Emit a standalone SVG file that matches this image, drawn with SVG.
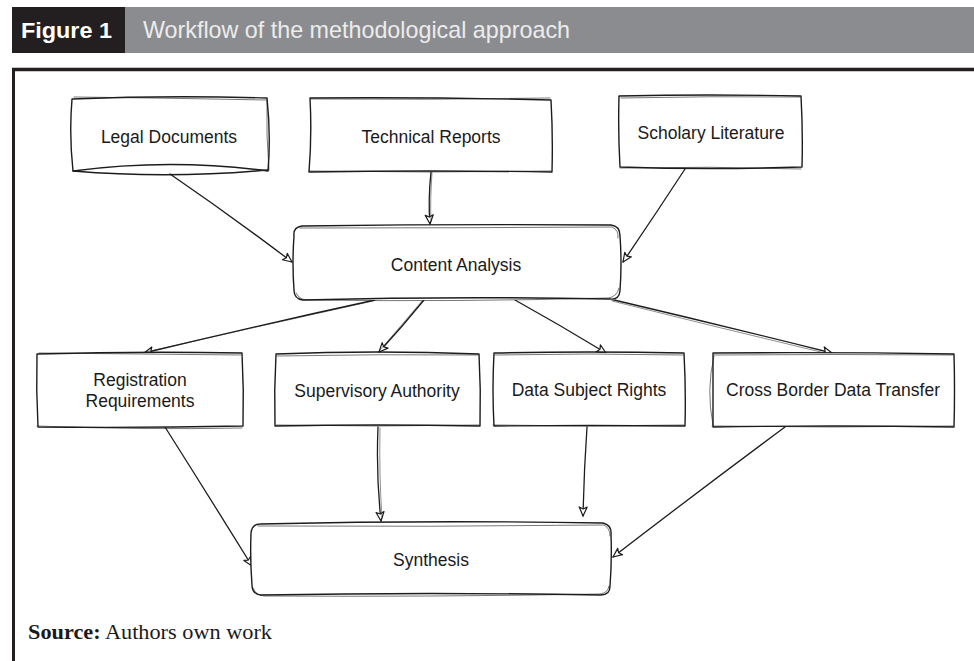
<svg xmlns="http://www.w3.org/2000/svg" width="974" height="661" viewBox="0 0 974 661">
<style>
.sk{fill:none;stroke:#1c1c1c;stroke-width:1.4;stroke-linejoin:round;stroke-linecap:round}
.sk2{fill:none;stroke:#1c1c1c;stroke-width:0.8;opacity:0.75;stroke-linecap:round}
.bg{fill:#ffffff;stroke:none}
.lbl{font-family:"Liberation Sans",Arial,Helvetica,sans-serif;font-size:17.5px;fill:#1a1a1a;text-anchor:middle}
.con{fill:none;stroke:#1c1c1c;stroke-width:1.3;stroke-linecap:round}
.con2{fill:none;stroke:#1c1c1c;stroke-width:0.7;opacity:0.7;stroke-linecap:round}
</style>
<defs>
<marker id="ah" markerUnits="userSpaceOnUse" markerWidth="12" markerHeight="12" viewBox="0 0 12 12" refX="10" refY="5" orient="auto">
<path d="M1,1 L10,5 L1,9 L3,5 Z" fill="#ffffff" stroke="#1c1c1c" stroke-width="1.2" stroke-linejoin="round"/>
</marker>
</defs>
<rect width="974" height="661" fill="#ffffff"/>
<g id="header">
<rect x="12" y="7" width="113" height="46" fill="#231f20"/>
<rect x="125" y="7" width="849" height="46" fill="#8b8c8f"/>
<text x="21" y="38" font-family="'Liberation Sans',Arial,sans-serif" font-weight="bold" font-size="22" fill="#ffffff" textLength="91" lengthAdjust="spacingAndGlyphs">Figure 1</text>
<text x="143" y="38" font-family="'Liberation Sans',Arial,sans-serif" font-size="24" fill="#ececec" textLength="427" lengthAdjust="spacingAndGlyphs">Workflow of the methodological approach</text>
</g>
<g id="frame">
<line x1="12" y1="69.5" x2="974" y2="69.5" stroke="#231f20" stroke-width="3.5"/>
<line x1="13.5" y1="68" x2="13.5" y2="661" stroke="#231f20" stroke-width="3"/>
</g>
<g id="connectors">
<path class="con" d="M170,174 Q230,215 292,262" marker-end="url(#ah)"/>
<path class="con" d="M431,172 Q428,200 430,224" marker-end="url(#ah)"/>
<path class="con2" d="M432,173 Q430,200 431,222"/>
<path class="con" d="M685,169 Q655,215 623,262" marker-end="url(#ah)"/>
<path class="con" d="M375,300 Q260,325 144,353" marker-end="url(#ah)"/>
<path class="con2" d="M373,301 Q260,326 146,352"/>
<path class="con" d="M424,300 Q402,327 379,352" marker-end="url(#ah)"/>
<path class="con2" d="M422,301 Q400,327 380,350"/>
<path class="con" d="M515,300 Q560,325 606,353" marker-end="url(#ah)"/>
<path class="con" d="M610,299 Q720,325 832,353" marker-end="url(#ah)"/>
<path class="con2" d="M612,301 Q720,328 829,354"/>
<path class="con" d="M165,427 Q208,495 252,566" marker-end="url(#ah)"/>
<path class="con" d="M378,427 Q376,475 381,521" marker-end="url(#ah)"/>
<path class="con2" d="M380,428 Q379,475 382,518"/>
<path class="con" d="M587,427 Q584,470 583,516" marker-end="url(#ah)"/>
<path class="con" d="M785,427 Q700,490 613,557" marker-end="url(#ah)"/>
</g>
<g id="legal-documents">
<path class="bg" d="M72,99 L267,98 L268,171 L73,171 Z"/>
<path class="sk" d="M72,99 Q170,95 267,98 Q271,135 268,171 Q170,158 73,171 Q69,135 72,99 Z"/>
<path class="sk" d="M73,171 Q170,179 268,170"/>
<path class="sk2" d="M74,97 Q170,98 266,100 M267,100 Q266,135 269,170"/>
<text class="lbl" x="169" y="143">Legal Documents</text>
</g>
<g id="technical-reports">
<path class="bg" d="M309,98 L552,99 L551,172 L310,171 Z"/>
<path class="sk" d="M310,98 Q430,97 551,100 Q553,135 552,172 Q430,170 309,172 Q312,135 310,98 Z"/>
<path class="sk2" d="M311,99 Q430,100 550,98 M309,171 Q430,173 551,171"/>
<text class="lbl" x="431" y="143">Technical Reports</text>
</g>
<g id="scholary-literature">
<path class="bg" d="M619,96 L802,96 L802,168 L620,168 Z"/>
<path class="sk" d="M619,96 Q710,94 801,96 Q803,132 802,167 Q710,170 620,167 Q618,132 619,96 Z"/>
<path class="sk2" d="M621,98 Q710,96 800,97 M620,168 Q710,166 801,169"/>
<text class="lbl" x="711" y="139">Scholary Literature</text>
</g>
<g id="content-analysis">
<path class="bg" d="M303,226 L610,226 Q620,226 620,236 L620,290 Q620,300 610,300 L303,300 Q293,300 293,290 L293,236 Q293,226 303,226 Z"/>
<path class="sk" d="M302,226 Q456,224 611,225 Q620,226 620,236 Q622,263 620,291 Q619,300 610,299 Q456,296 303,300 Q294,299 294,290 Q292,263 294,236 Q293,227 302,226 Z"/>
<path class="sk2" d="M300,228 Q456,228 612,227 Q619,230 618,238 M296,293 Q300,301 310,300 Q456,302 608,298 Q617,297 619,288"/>
<text class="lbl" x="456" y="271">Content Analysis</text>
</g>
<g id="registration-requirements">
<path class="bg" d="M37,353 L243,353 L243,427 L37,427 Z"/>
<path class="sk" d="M37,354 Q140,351 242,353 Q244,390 243,426 Q140,428 38,427 Q36,390 37,354 Z"/>
<path class="sk2" d="M39,353 Q140,354 241,355 M37,426 Q140,430 242,428"/>
<text class="lbl" x="140" y="386">Registration</text>
<text class="lbl" x="140" y="407">Requirements</text>
</g>
<g id="supervisory-authority">
<path class="bg" d="M275,353 L480,353 L480,426 L275,426 Z"/>
<path class="sk" d="M276,354 Q377,350 479,354 Q481,390 480,426 Q377,424 275,426 Q274,390 276,354 Z"/>
<path class="sk2" d="M277,356 Q377,354 478,355 M276,425 Q377,427 479,425"/>
<text class="lbl" x="377" y="397">Supervisory Authority</text>
</g>
<g id="data-subject-rights">
<path class="bg" d="M493,353 L685,353 L685,426 L493,426 Z"/>
<path class="sk" d="M494,353 Q589,351 684,353 Q686,390 685,426 Q589,425 494,426 Q492,390 494,353 Z"/>
<path class="sk2" d="M495,355 Q589,353 683,355 M493,425 Q589,427 684,425"/>
<text class="lbl" x="589" y="396">Data Subject Rights</text>
</g>
<g id="cross-border-data-transfer">
<path class="bg" d="M712,353 L954,353 L954,427 L712,427 Z"/>
<path class="sk" d="M713,353 Q833,352 954,354 Q955,390 954,427 Q833,425 713,427 Q713,390 713,353 Z"/>
<path class="sk2" d="M714,355 Q833,354 953,355 M712,426 Q833,428 953,426 M714,356 Q706,390 713,425"/>
<text class="lbl" x="833" y="396">Cross Border Data Transfer</text>
</g>
<g id="synthesis">
<path class="bg" d="M261,523 L601,523 Q611,523 611,533 L611,585 Q611,595 601,595 L261,595 Q251,595 251,585 L251,533 Q251,523 261,523 Z"/>
<path class="sk" d="M260,524 Q430,520 603,523 Q612,525 611,535 Q612,560 610,586 Q610,595 601,595 Q430,592 261,595 Q252,594 252,585 Q250,560 251,533 Q252,524 260,524 Z"/>
<path class="sk2" d="M258,526 Q430,527 604,525 Q610,528 610,536 M253,588 Q256,596 265,596 Q430,597 600,594 Q608,593 609,586"/>
<text class="lbl" x="431" y="566">Synthesis</text>
</g>
<g id="source">
<text x="28" y="639" font-family="'Liberation Serif','Times New Roman',serif" font-size="21" fill="#1a1a1a" textLength="244" lengthAdjust="spacingAndGlyphs"><tspan font-weight="bold">Source:</tspan> Authors own work</text>
</g>
</svg>
